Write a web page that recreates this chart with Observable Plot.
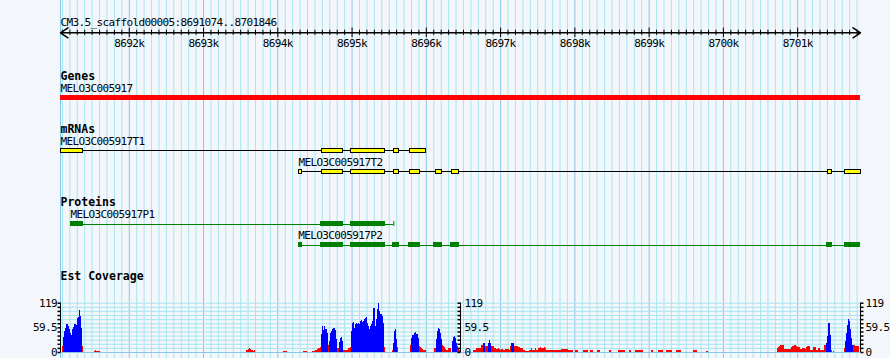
<!DOCTYPE html>
<html><head><meta charset="utf-8">
<script src="https://cdn.jsdelivr.net/npm/d3@7"></script>
<script src="https://cdn.jsdelivr.net/npm/@observablehq/plot@0.6"></script>
<style>
html,body{margin:0;padding:0;background:#F3F6FA;}
#chart{position:relative;width:890px;height:358px;overflow:hidden;background:#F3F6FA;}
#chart svg{position:absolute;left:0;top:0;}
#chart text{letter-spacing:-0.62px;}
#chart g[font-weight="bold"] text{letter-spacing:0px;}
</style></head><body><div id="chart"></div>
<script>
// ---------- data ----------
const refName = "CM3.5_scaffold00005";
const viewStart = 8691074, viewEnd = 8701846;
const majorTicks = [8692000, 8693000, 8694000, 8695000, 8696000, 8697000, 8698000, 8699000, 8700000, 8701000];
const minorTicks = d3.range(8691100, viewEnd, 100).filter(d => d % 1000 !== 0);

const genes = [{name: "MELO3C005917", start: 8691074, end: 8701846}];

const transcripts = [
  {name: "MELO3C005917T1", start: 8691074, end: 8695993},
  {name: "MELO3C005917T2", start: 8694279, end: 8701846}
];
const exonsT1 = [[8691074, 8691380], [8694598, 8694875], [8694992, 8695441], [8695562, 8695635], [8695777, 8695993]];
const exonsT2 = [[8694279, 8694329], [8694598, 8694875], [8694992, 8695441], [8695562, 8695635], [8695777, 8695912],
                 [8696127, 8696214], [8696339, 8696443], [8701406, 8701465], [8701644, 8701846]];

const proteins = [
  {name: "MELO3C005917P1", start: 8691209, end: 8695562},
  {name: "MELO3C005917P2", start: 8694275, end: 8701833}
];
const cdsP1 = [[8691209, 8691380], [8694575, 8694881], [8694979, 8695450]];
const cdsP2 = [[8694275, 8694333], [8694575, 8694881], [8694979, 8695450], [8695540, 8695639], [8695756, 8695921],
               [8696101, 8696218], [8696325, 8696447], [8701384, 8701469], [8701631, 8701833]];

// Est coverage: runs of consecutive bins [start bp, values...]
const covBin = 13.465;
const covMax = 119;
const covLabels = [0, 59.5, 119];
const estBlue = [
  [8691114, [36,51,58,67,67,63,55,46,41,55,60,67,67,65,82,85,101,87,58]],
  [8694588, [43,63,53,63,56,56,46]],
  [8694696, [27,46,51,56,58,58,53,31]],
  [8694831, [24,34,36,27]],
  [8694992, [51,70,72,58,67,70,67,70,67,75,77,72,75,79,82,84,70,63,55,63,67,75,106,106,63,79,104,119,99,91,91,87,70]],
  [8695558, [22,51,55,31]],
  [8695800, [35,40,40,45,48,43,43,35]],
  [8696137, [31,51,58,56,47,31]],
  [8696352, [27,37,39,35,22]],
  [8696770, [21,21]],
  [8696837, [22,29,22]],
  [8697147, [21,21,21]],
  [8701388, [22,39,71,69,40]],
  [8701644, [27,47,64,79,75,55,35,18]]
];
const estRed = [
  [8691101, [14]],
  [8691370, [14]],
  [8691532, [3,5,3,3,2,2]],
  [8693579, [5,5,8,10,8,5,5,3,5]],
  [8694077, [3,3,3,3]],
  [8694346, [3,3,3,3]],
  [8694467, [3,3,3,6,6,8,10,10,13]],
  [8694683, [18]],
  [8694804, [10,10]],
  [8694885, [6,4,4,4,6,9,10,13]],
  [8695437, [13]],
  [8695544, [5]],
  [8695612, [13]],
  [8695787, [17]],
  [8695908, [14,12,10,8,6,5,4]],
  [8696110, [10,10]],
  [8696218, [18,14,12,8,6,4]],
  [8696298, [10,10,10]],
  [8696406, [14,14,10,6]],
  [8696635, [6,6,6,10,10,10,10,10,18,18,18,18,14,14,14,14,14,14,14,14,14,10,9,8,8,9,8,4,8,7,6,6,7,8,8,7,6,
             14,14,14,14,14,14,14,14,12,11,10,10,9,6,6,2,2,2,2,6,6,9,6,6,6,9,6,6,10,10,13,10,10,10,13,10,
             6,6,6,6,6,6,6,6,6,5,5,5,5,5,5,8,8,8,8,8,8,8,5,5,5,5,5]],
  [8698009, [6,6,6]],
  [8698116, [6,6,6,6,6]],
  [8698211, [5,5,5]],
  [8698305, [6,6,6]],
  [8698466, [5,5]],
  [8698588, [5,5,5,5,5,5,5]],
  [8698736, [4,4]],
  [8698816, [6,6,6,6,6,6,6,6]],
  [8699032, [4,4]],
  [8699126, [5,5,5,5,5]],
  [8699234, [4,4,4,4,5,5]],
  [8699368, [5,5,5,5,5]],
  [8699597, [4,4,4,4]],
  [8699772, [2,2]],
  [8700728, [10,12,14,16,16,16,16,8,8,7,7,7,7,8,12,14,14,16,16,14,13,13,13,8,8,10,10,10,8,13,15,15,15,
             4,4,4,13,13,13,6,6,10,10,4,4,4,4,16,16,16]],
  [8701456, [5]],
  [8701482, [2]],
  [8701631, [10]],
  [8701752, [18,18,14,14,14,14]]
];

// ---------- helpers ----------
const W = 890, H = 358;
const minorColor = "#A8E6F0", majorColor = "#8CC6E6";
const chart = document.getElementById("chart");
const X = {type: "linear", domain: [viewStart, viewEnd], range: [60, 860], axis: null};
function bandY(names, firstCenter, bandHeight, step = 21) {
  const pi = 1 - bandHeight / step;
  return {type: "band", domain: names, range: [firstCenter - step / 2, firstCenter + step * (names.length - 0.5)],
          paddingInner: pi, paddingOuter: pi / 2, align: 0.5, axis: null};
}
function layer(options) {
  const svg = Plot.plot({
    width: W, height: H, margin: 0, x: X,
    style: {background: "transparent", overflow: "visible", fontFamily: "DejaVu Sans Mono", fontSize: "11px", color: "black"},
    ...options
  });
  chart.append(svg);
}
const bold = {fontWeight: "bold", fontSize: 11.5, textAnchor: "start", fill: "black"};
const small = {textAnchor: "start", fill: "black"};
const toRows = (runs) => runs.flatMap(([s, vals]) => vals.map((v, i) => ({x1: s + i * covBin, x2: s + (i + 1) * covBin, v})));

// ---------- background grid ----------
layer({marks: [
  Plot.ruleX(minorTicks, {stroke: minorColor}),
  Plot.ruleX([viewStart, ...majorTicks], {stroke: majorColor})
]});

// ---------- ruler ----------
const mid = (viewStart + viewEnd) / 2;
layer({
  y: {domain: [-1, 1], range: [37, 27.6], axis: null},
  marks: [
    Plot.ruleX(minorTicks, {y1: () => -0.55, y2: () => 0.55, stroke: "black"}),
    Plot.ruleX(majorTicks, {y1: () => -1, y2: () => 1, stroke: "black"}),
    Plot.arrow([{a: mid, b: viewStart}, {a: mid, b: viewEnd}],
      {x1: "a", x2: "b", y1: () => 0, y2: () => 0, stroke: "black", headLength: 9, headAngle: 68}),
    Plot.text(majorTicks, {x: d => d, y: () => -1, dy: 6.2, text: d => `${d / 1000}k`, fill: "black"}),
    Plot.text([`${refName}:${viewStart}..${viewEnd}`], {x: () => viewStart, y: () => 1, dy: -5.8, ...small})
  ]
});

// ---------- Genes ----------
layer({
  y: bandY(genes.map(d => d.name), 97.5, 5),
  marks: [
    Plot.barX(genes, {x1: "start", x2: "end", y: "name", fill: "#FF0000", shapeRendering: "crispEdges"}),
    Plot.text(genes, {x: "start", y: "name", text: "name", dy: -9.3, ...small}),
    Plot.text(["Genes"], {x: () => viewStart, y: () => genes[0].name, dy: -21.7, ...bold})
  ]
});

// ---------- mRNAs ----------
const exons = [
  ...exonsT1.map(([s, e]) => ({tx: transcripts[0].name, s, e})),
  ...exonsT2.map(([s, e]) => ({tx: transcripts[1].name, s, e}))
];
layer({
  y: bandY(transcripts.map(d => d.name), 149.5, 4),
  marks: [
    Plot.ruleY(transcripts, {y: "name", x1: "start", x2: "end", stroke: "black", shapeRendering: "crispEdges"}),
    Plot.barX(exons, {x1: "s", x2: "e", y: "tx", fill: "#FFFF00", stroke: "black", shapeRendering: "crispEdges"}),
    Plot.text(transcripts, {x: "start", y: "name", text: "name", dy: -9.2, ...small}),
    Plot.text(["mRNAs"], {x: () => viewStart, y: () => transcripts[0].name, dy: -21.5, ...bold})
  ]
});

// ---------- Proteins ----------
const cds = [
  ...cdsP1.map(([s, e]) => ({p: proteins[0].name, s, e})),
  ...cdsP2.map(([s, e]) => ({p: proteins[1].name, s, e}))
];
layer({
  y: bandY(proteins.map(d => d.name), 223.7, 5),
  marks: [
    Plot.ruleY(proteins, {y: "name", x1: "start", x2: "end", stroke: "#008000", shapeRendering: "crispEdges"}),
    Plot.tickX(proteins, {x: "end", y: "name", stroke: "#008000"}),
    Plot.barX(cds, {x1: "s", x2: "e", y: "p", fill: "#008000", shapeRendering: "crispEdges"}),
    Plot.text(proteins, {x: "start", y: "name", text: "name", dy: -9.6, ...small}),
    Plot.text(["Proteins"], {x: () => viewStart, y: () => proteins[0].name, dy: -22, ...bold})
  ]
});

// ---------- Est Coverage ----------
const gridVals = d3.range(13).map(i => i * covMax / 12);
const axesAt = [viewStart, mid, viewEnd];
const tickL = {draw(c) { c.moveTo(-3, 0); c.lineTo(0, 0); }};
const tickR = {draw(c) { c.moveTo(0, 0); c.lineTo(3, 0); }};
layer({
  y: {domain: [0, covMax], range: [352, 302.7], axis: null},
  marks: [
    Plot.ruleY(gridVals, {y: d => d, x1: () => viewStart, x2: () => viewEnd, stroke: minorColor}),
    Plot.ruleY([0], {y: d => d, x1: () => viewStart, x2: () => viewEnd, stroke: majorColor}),
    Plot.rect(toRows(estRed), {x1: "x1", x2: "x2", y1: () => 0, y2: "v", fill: "#FF0000", shapeRendering: "crispEdges"}),
    Plot.rect(toRows(estBlue), {x1: "x1", x2: "x2", y1: () => 0, y2: "v", fill: "#0000FF", shapeRendering: "crispEdges"}),
    Plot.ruleX(axesAt, {y1: () => 0, y2: () => covMax, stroke: "black"}),
    Plot.dot(gridVals, {x: () => axesAt[0], y: d => d, symbol: tickL, stroke: "black", fill: "none"}),
    Plot.dot(gridVals, {x: () => axesAt[1], y: d => d, symbol: tickL, stroke: "black", fill: "none"}),
    Plot.dot(gridVals, {x: () => axesAt[2], y: d => d, symbol: tickR, stroke: "black", fill: "none"}),
    Plot.text(covLabels, {x: () => axesAt[0], y: d => d, text: d => String(d), textAnchor: "end", dx: -3.5, fill: "black"}),
    Plot.text(covLabels, {x: () => axesAt[1], y: d => d, text: d => String(d), textAnchor: "start", dx: 4, fill: "black"}),
    Plot.text(covLabels, {x: () => axesAt[2], y: d => d, text: d => String(d), textAnchor: "start", dx: 5, fill: "black"}),
    Plot.text(["Est Coverage"], {x: () => viewStart, y: () => covMax, dy: -26.7, ...bold})
  ]
});
</script></body></html>
